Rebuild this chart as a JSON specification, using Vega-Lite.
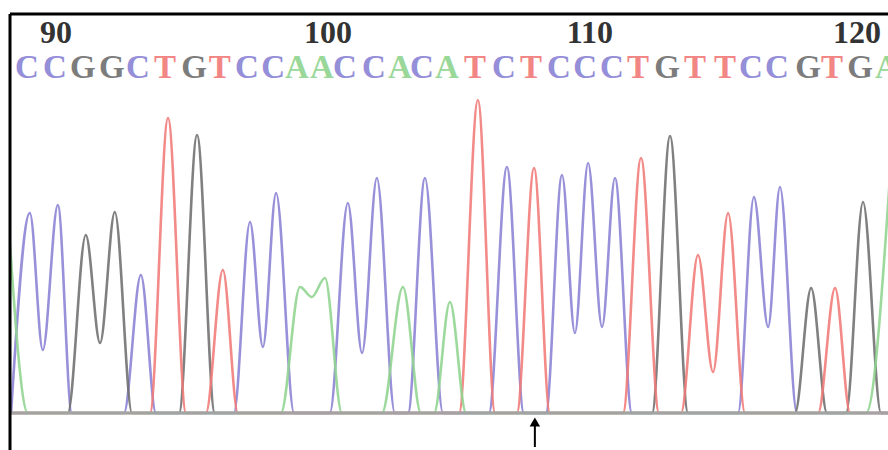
{
  "$schema": "https://vega.github.io/schema/vega-lite/v6.json",
  "width": 878,
  "height": 436,
  "autosize": {"type": "none"},
  "padding": {"left": 10, "top": 14, "right": 0, "bottom": 0},
  "background": "white",
  "config": {"view": {"stroke": null}},
  "datasets": {
    "traces": [
      {"ch": "C", "pos": 88.30, "sig": 0}, {"ch": "C", "pos": 89.00, "sig": 200}, {"ch": "C", "pos": 89.48, "sig": 63},
      {"ch": "C", "pos": 90.04, "sig": 208}, {"ch": "C", "pos": 90.56, "sig": 0}, {"ch": "C", "pos": 92.50, "sig": 0},
      {"ch": "C", "pos": 93.13, "sig": 138}, {"ch": "C", "pos": 93.69, "sig": 0}, {"ch": "C", "pos": 96.59, "sig": 0},
      {"ch": "C", "pos": 97.19, "sig": 191}, {"ch": "C", "pos": 97.67, "sig": 66}, {"ch": "C", "pos": 98.16, "sig": 220},
      {"ch": "C", "pos": 98.83, "sig": 0}, {"ch": "C", "pos": 100.16, "sig": 0}, {"ch": "C", "pos": 100.83, "sig": 210},
      {"ch": "C", "pos": 101.36, "sig": 60}, {"ch": "C", "pos": 101.91, "sig": 235}, {"ch": "C", "pos": 102.58, "sig": 0},
      {"ch": "C", "pos": 103.07, "sig": 0}, {"ch": "C", "pos": 103.70, "sig": 235}, {"ch": "C", "pos": 104.37, "sig": 0},
      {"ch": "C", "pos": 106.08, "sig": 0}, {"ch": "C", "pos": 106.75, "sig": 246}, {"ch": "C", "pos": 107.38, "sig": 0},
      {"ch": "C", "pos": 108.20, "sig": 0}, {"ch": "C", "pos": 108.80, "sig": 238}, {"ch": "C", "pos": 109.28, "sig": 80},
      {"ch": "C", "pos": 109.77, "sig": 250}, {"ch": "C", "pos": 110.29, "sig": 86}, {"ch": "C", "pos": 110.77, "sig": 235},
      {"ch": "C", "pos": 111.40, "sig": 0}, {"ch": "C", "pos": 115.35, "sig": 0}, {"ch": "C", "pos": 115.94, "sig": 216},
      {"ch": "C", "pos": 116.47, "sig": 86}, {"ch": "C", "pos": 116.91, "sig": 226}, {"ch": "C", "pos": 117.54, "sig": 0},
      {"ch": "C", "pos": 120.93, "sig": 0},

      {"ch": "G", "pos": 88.26, "sig": 0}, {"ch": "G", "pos": 90.41, "sig": 0}, {"ch": "G", "pos": 91.08, "sig": 178},
      {"ch": "G", "pos": 91.61, "sig": 70}, {"ch": "G", "pos": 92.16, "sig": 201}, {"ch": "G", "pos": 92.80, "sig": 0},
      {"ch": "G", "pos": 94.55, "sig": 0}, {"ch": "G", "pos": 95.22, "sig": 278}, {"ch": "G", "pos": 95.88, "sig": 0},
      {"ch": "G", "pos": 112.15, "sig": 0}, {"ch": "G", "pos": 112.82, "sig": 277}, {"ch": "G", "pos": 113.49, "sig": 0},
      {"ch": "G", "pos": 117.47, "sig": 0}, {"ch": "G", "pos": 118.07, "sig": 125}, {"ch": "G", "pos": 118.66, "sig": 0},
      {"ch": "G", "pos": 119.37, "sig": 0}, {"ch": "G", "pos": 120.00, "sig": 211}, {"ch": "G", "pos": 120.67, "sig": 0},
      {"ch": "G", "pos": 120.93, "sig": 0},

      {"ch": "T", "pos": 88.26, "sig": 0}, {"ch": "T", "pos": 93.47, "sig": 0}, {"ch": "T", "pos": 94.14, "sig": 295},
      {"ch": "T", "pos": 94.81, "sig": 0}, {"ch": "T", "pos": 95.55, "sig": 0}, {"ch": "T", "pos": 96.18, "sig": 143},
      {"ch": "T", "pos": 96.74, "sig": 0}, {"ch": "T", "pos": 104.97, "sig": 0}, {"ch": "T", "pos": 105.67, "sig": 313},
      {"ch": "T", "pos": 106.31, "sig": 0}, {"ch": "T", "pos": 107.12, "sig": 0}, {"ch": "T", "pos": 107.76, "sig": 245},
      {"ch": "T", "pos": 108.35, "sig": 0}, {"ch": "T", "pos": 111.07, "sig": 0}, {"ch": "T", "pos": 111.74, "sig": 255},
      {"ch": "T", "pos": 112.41, "sig": 0}, {"ch": "T", "pos": 113.23, "sig": 0}, {"ch": "T", "pos": 113.86, "sig": 158},
      {"ch": "T", "pos": 114.42, "sig": 41}, {"ch": "T", "pos": 114.98, "sig": 200}, {"ch": "T", "pos": 115.61, "sig": 0},
      {"ch": "T", "pos": 118.33, "sig": 0}, {"ch": "T", "pos": 118.96, "sig": 125}, {"ch": "T", "pos": 119.52, "sig": 0},
      {"ch": "T", "pos": 120.93, "sig": 0},

      {"ch": "A", "pos": 88.18, "sig": 200}, {"ch": "A", "pos": 88.93, "sig": 0}, {"ch": "A", "pos": 98.34, "sig": 0},
      {"ch": "A", "pos": 99.05, "sig": 126}, {"ch": "A", "pos": 99.49, "sig": 116}, {"ch": "A", "pos": 99.98, "sig": 135},
      {"ch": "A", "pos": 100.61, "sig": 0}, {"ch": "A", "pos": 102.10, "sig": 0}, {"ch": "A", "pos": 102.88, "sig": 126},
      {"ch": "A", "pos": 103.55, "sig": 0}, {"ch": "A", "pos": 104.04, "sig": 0}, {"ch": "A", "pos": 104.63, "sig": 111},
      {"ch": "A", "pos": 105.23, "sig": 0}, {"ch": "A", "pos": 120.11, "sig": 0}, {"ch": "A", "pos": 121.00, "sig": 235}
    ],
    "bases": [
      {"pos": 89.00, "b": "C"}, {"pos": 90.04, "b": "C"}, {"pos": 91.08, "b": "G"}, {"pos": 92.16, "b": "G"},
      {"pos": 93.13, "b": "C"}, {"pos": 94.14, "b": "T"}, {"pos": 95.22, "b": "G"}, {"pos": 96.18, "b": "T"},
      {"pos": 97.19, "b": "C"}, {"pos": 98.16, "b": "C"}, {"pos": 99.05, "b": "A"}, {"pos": 99.98, "b": "A"},
      {"pos": 100.83, "b": "C"}, {"pos": 101.91, "b": "C"}, {"pos": 102.88, "b": "A"}, {"pos": 103.70, "b": "C"},
      {"pos": 104.63, "b": "A"}, {"pos": 105.67, "b": "T"}, {"pos": 106.75, "b": "C"}, {"pos": 107.76, "b": "T"},
      {"pos": 108.80, "b": "C"}, {"pos": 109.77, "b": "C"}, {"pos": 110.77, "b": "C"}, {"pos": 111.74, "b": "T"},
      {"pos": 112.82, "b": "G"}, {"pos": 113.86, "b": "T"}, {"pos": 114.98, "b": "T"}, {"pos": 115.94, "b": "C"},
      {"pos": 116.91, "b": "C"}, {"pos": 118.07, "b": "G"}, {"pos": 118.96, "b": "T"}, {"pos": 120.00, "b": "G"},
      {"pos": 121.00, "b": "A"}
    ],
    "numbers": [
      {"pos": 89.97, "label": "90"}, {"pos": 100.09, "label": "100"}, {"pos": 109.84, "label": "110"}, {"pos": 119.78, "label": "120"}
    ],
    "arrow": [
      {"pos": 107.79, "top": -8, "bottom": -34, "head": -9}
    ],
    "one": [{"k": 1}]
  },
  "layer": [
    {
      "data": {"name": "traces"},
      "mark": {"type": "line", "interpolate": "monotone", "strokeWidth": 2.6, "clip": true, "opacity": 0.88},
      "encoding": {
        "x": {"field": "pos", "type": "quantitative", "scale": {"domain": [88.26, 120.93], "nice": false, "zero": false}, "axis": null},
        "y": {"field": "sig", "type": "quantitative", "scale": {"domain": [-37, 399], "nice": false, "zero": false}, "axis": null},
        "color": {"field": "ch", "type": "nominal", "scale": {"domain": ["A", "C", "G", "T"], "range": ["#8fd48f", "#8a82d4", "#6e6e6e", "#f07a78"]}, "legend": null},
        "detail": {"field": "ch"}
      }
    },
    {
      "data": {"name": "one"},
      "mark": {"type": "rule", "color": "#a3a3a3", "strokeWidth": 3},
      "encoding": {"y": {"datum": 0, "type": "quantitative"}}
    },
    {
      "data": {"name": "bases"},
      "mark": {"type": "text", "font": "Liberation Serif", "fontSize": 33, "fontWeight": "bold", "baseline": "alphabetic", "align": "center", "dx": -3, "opacity": 0.9},
      "encoding": {
        "x": {"field": "pos", "type": "quantitative"},
        "y": {"datum": 335, "type": "quantitative"},
        "text": {"field": "b"},
        "color": {"field": "b", "type": "nominal", "scale": {"domain": ["A", "C", "G", "T"], "range": ["#8ccc8c", "#a4a0cc", "#606060", "#e8875e"]}, "legend": null}
      }
    },
    {
      "data": {"name": "numbers"},
      "mark": {"type": "text", "font": "Liberation Serif", "fontSize": 32, "fontWeight": "bold", "baseline": "alphabetic", "align": "center", "color": "#333333"},
      "encoding": {
        "x": {"field": "pos", "type": "quantitative"},
        "y": {"datum": 370, "type": "quantitative"},
        "text": {"field": "label"}
      }
    },
    {
      "data": {"name": "arrow"},
      "mark": {"type": "rule", "color": "#000000", "strokeWidth": 2},
      "encoding": {
        "x": {"field": "pos", "type": "quantitative"},
        "y": {"field": "top", "type": "quantitative"},
        "y2": {"field": "bottom"}
      }
    },
    {
      "data": {"name": "arrow"},
      "mark": {"type": "point", "shape": "triangle-up", "filled": true, "color": "#000000", "size": 110, "opacity": 1},
      "encoding": {
        "x": {"field": "pos", "type": "quantitative"},
        "y": {"field": "head", "type": "quantitative"}
      }
    },
    {
      "data": {"name": "one"},
      "mark": {"type": "rule", "color": "#000000", "strokeWidth": 3},
      "encoding": {"y": {"datum": 399, "type": "quantitative"}}
    },
    {
      "data": {"name": "one"},
      "mark": {"type": "rule", "color": "#000000", "strokeWidth": 3},
      "encoding": {"x": {"datum": 88.26, "type": "quantitative"}}
    }
  ]
}
